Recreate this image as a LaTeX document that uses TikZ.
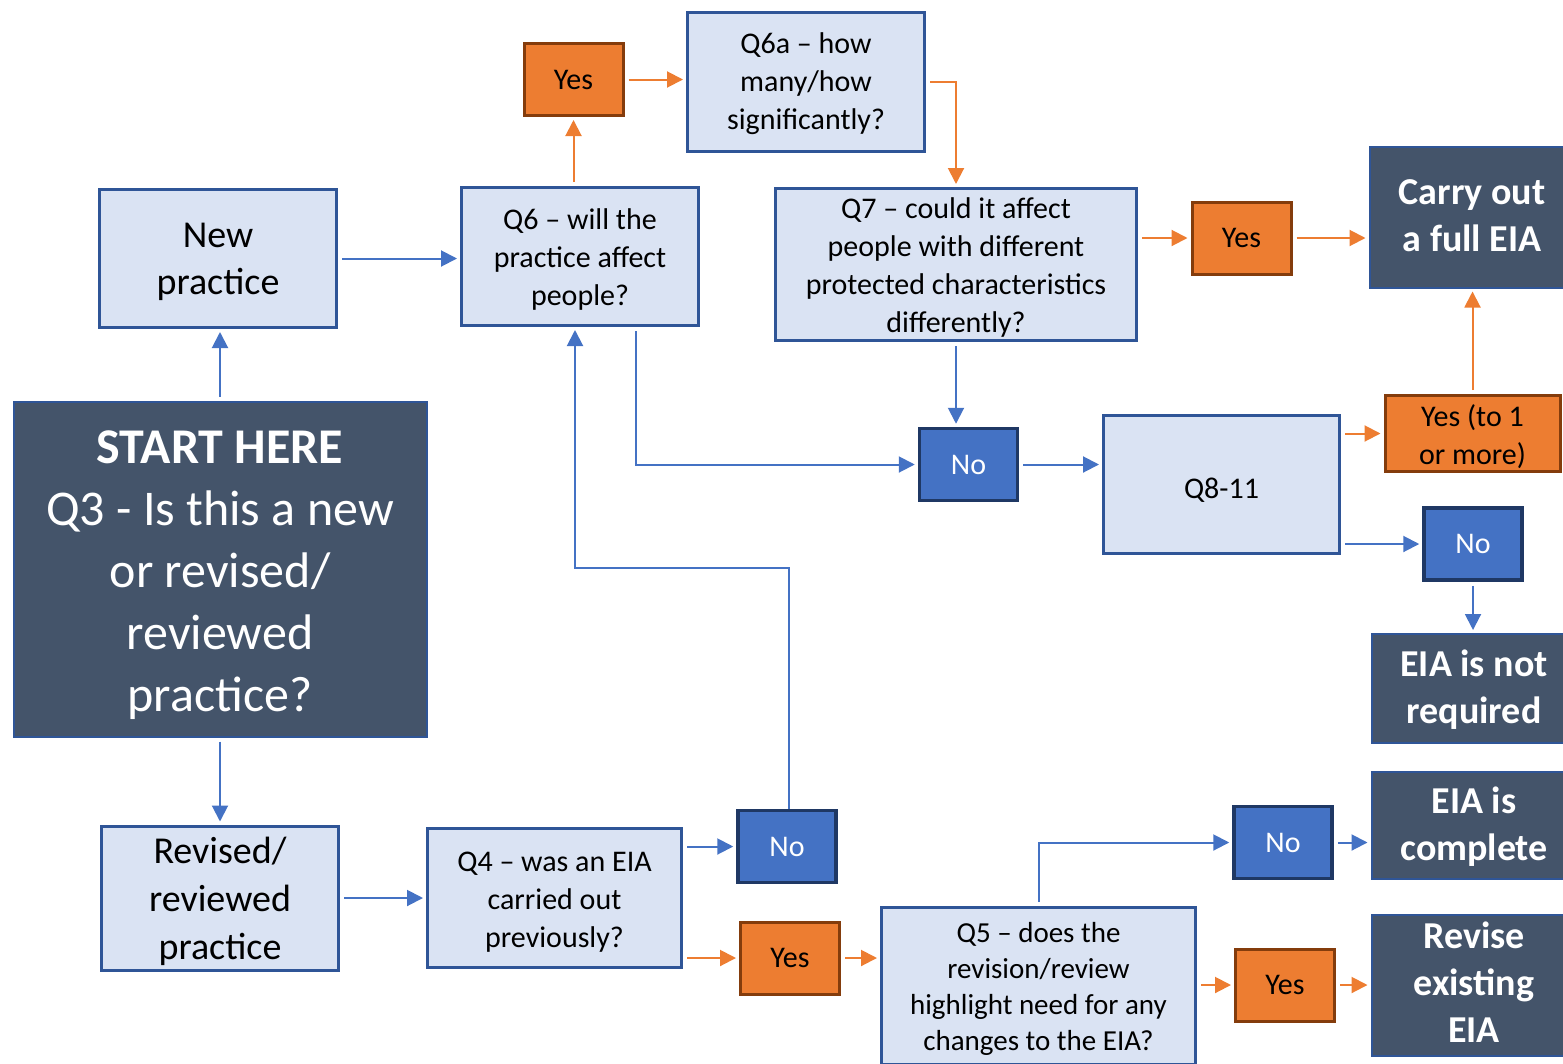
\documentclass[tikz,border=0pt]{standalone}
\usepackage{fontspec}
\setmainfont{Carlito}
\usetikzlibrary{arrows.meta,calc}
\definecolor{lfill}{HTML}{DAE3F3}
\definecolor{lborder}{HTML}{2F5597}
\definecolor{dfill}{HTML}{44546A}
\definecolor{ofill}{HTML}{ED7D31}
\definecolor{oborder}{HTML}{843C0C}
\definecolor{bfill}{HTML}{4472C4}
\definecolor{bborder}{HTML}{1F3864}
\definecolor{bline}{HTML}{4472C4}
\definecolor{oline}{HTML}{ED7D31}
\newcommand\tx[2][-3pt]{\raisebox{#1}[\height][\depth]{\begin{tabular}{@{}c@{}}#2\end{tabular}}}
\tikzset{
  lbox/.style={draw=lborder, fill=lfill, line width=3pt, inner sep=0pt, align=center,
    font=\fontsize{30}{38}\selectfont, text=black},
  dbox/.style={draw=lborder, fill=dfill, line width=2pt, inner sep=0pt, align=center,
    font=\fontsize{38}{47}\selectfont\bfseries, text=white},
  ybox/.style={draw=oborder, fill=ofill, line width=3pt, inner sep=0pt, align=center,
    font=\fontsize{30}{38}\selectfont, text=black, minimum width=99pt, minimum height=72pt},
  nbox/.style={draw=bborder, fill=bfill, line width=3.5pt, inner sep=0pt, align=center,
    font=\fontsize{30}{38}\selectfont, text=white, minimum width=98pt, minimum height=72pt},
  barrow/.style={draw=bline, line width=2pt, -{Triangle[length=16pt,width=16pt]}, shorten >=3pt, shorten <=4pt},
  oarrow/.style={draw=oline, line width=2pt, -{Triangle[length=16pt,width=16pt]}, shorten >=3pt, shorten <=4pt},
}
\begin{document}
\begin{tikzpicture}[x=1pt,y=-1pt]
\useasboundingbox (0,0) rectangle (1563,1063);
% light boxes
\node[lbox, minimum width=237pt, minimum height=138pt, font=\fontsize{38}{47}\selectfont] (newp) at (218,258.5) {\tx{New\\practice}};
\node[lbox, minimum width=237pt, minimum height=138pt] (q6) at (580,256.5) {\tx{Q6 -- will the\\practice affect\\people?}};
\node[lbox, minimum width=237pt, minimum height=139pt] (q6a) at (806,82) {\tx[-2pt]{Q6a -- how\\many/how\\significantly?}};
\node[lbox, minimum width=361pt, minimum height=150pt] (q7) at (956,264.5) {\tx{Q7 -- could it affect\\people with different\\protected characteristics\\differently?}};
\node[lbox, minimum width=236pt, minimum height=138pt] (q811) at (1221.5,484.5) {\tx[-6pt]{Q8-11}};
\node[lbox, minimum width=237pt, minimum height=139pt, font=\fontsize{38}{48}\selectfont] (revp) at (220,898) {\tx[-4pt]{Revised/\\reviewed\\practice}};
\node[lbox, minimum width=254pt, minimum height=139pt] (q4) at (554.5,898) {\tx[-4pt]{Q4 -- was an EIA\\carried out\\previously?}};
\node[lbox, minimum width=314pt, minimum height=157pt, font=\fontsize{29}{36}\selectfont] (q5) at (1038.5,986) {\tx{Q5 -- does the\\revision/review\\highlight need for any\\changes to the EIA?}};
% dark boxes
\node[dbox, minimum width=413pt, minimum height=335pt, font=\fontsize{50}{62}\selectfont] (start) at (220,569) {\tx[-6pt]{\textbf{START HERE}\\Q3 - Is this a new\\or revised/\\reviewed\\practice?}};
\node[dbox, minimum width=205pt, minimum height=141pt] (carry) at (1472,217) {\tx[-2pt]{Carry out\\a full EIA}};
\node[dbox, minimum width=205pt, minimum height=109pt] (notreq) at (1474,688.5) {\tx[-2pt]{EIA is not\\required}};
\node[dbox, minimum width=205pt, minimum height=107pt] (complete) at (1474,825) {\tx[-3pt]{EIA is\\complete}};
\node[dbox, minimum width=205pt, minimum height=139pt] (revise) at (1474,985) {\tx[-1pt]{Revise\\existing\\EIA}};
% yes boxes
\node[ybox] (yes1) at (573.5,79.5) {Yes};
\node[ybox] (yes2) at (1241.5,238) {\tx[-2pt]{Yes}};
\node[ybox, minimum width=175pt] (yesm) at (1472.5,433.5) {\tx[-4pt]{Yes (to 1\\or more)}};
\node[ybox] (yes3) at (790,958) {Yes};
\node[ybox] (yes4) at (1285,985) {\tx[-2pt]{Yes}};
% no boxes
\node[nbox] (no1) at (968.5,464.5) {\tx[-2pt]{No}};
\node[nbox] (no2) at (1473,544) {\tx[-2pt]{No}};
\node[nbox] (no3) at (787,846.5) {\tx[-2pt]{No}};
\node[nbox] (no4) at (1283,842.5) {\tx[-2pt]{No}};
\coordinate (j1) at (789,568);
% connectors
\draw[barrow] (start.north) -- (start.north |- newp.south);
\draw[barrow] (newp.east) -- (newp.east -| q6.west);
\draw[oarrow] (yes1.south |- q6.north) -- (yes1.south);
\draw[oarrow] (yes1.east) -- (yes1.east -| q6a.west);
\draw[oarrow] (q6a.east) -| (q7.north);
\draw[oarrow] (q7.east |- yes2.west) -- (yes2.west);
\draw[oarrow] (yes2.east) -- (yes2.east -| carry.west);
\draw[barrow] (q7.south) -- (q7.south |- no1.north);
\draw[barrow] ([xshift=56pt]q6.south) |- (no1.west);
\draw[barrow] (no1.east) -- (no1.east -| q811.west);
\draw[oarrow] (q811.east |- yesm.west) -- (yesm.west);
\draw[oarrow] (yesm.north) -- (yesm.north |- carry.south);
\draw[barrow] (q811.east |- no2.west) -- (no2.west);
\draw[barrow] (no2.south) -- (no2.south |- notreq.north);
\draw[barrow] (start.south) -- (start.south |- revp.north);
\draw[barrow] (revp.east) -- (q4.west);
\draw[barrow] (q4.east |- no3.west) -- (no3.west);
\draw[barrow, shorten <=0pt] (no3.north -| j1) -- (j1) -| ([xshift=-5pt]q6.south);
\draw[oarrow] (q4.east |- yes3.west) -- (yes3.west);
\draw[oarrow] (yes3.east) -- (yes3.east -| q5.west);
\draw[barrow] (q5.north) |- (no4.west);
\draw[barrow] (no4.east) -- (no4.east -| complete.west);
\draw[oarrow] (q5.east |- yes4.west) -- (yes4.west);
\draw[oarrow] (yes4.east) -- (yes4.east -| revise.west);
\end{tikzpicture}
\end{document}
